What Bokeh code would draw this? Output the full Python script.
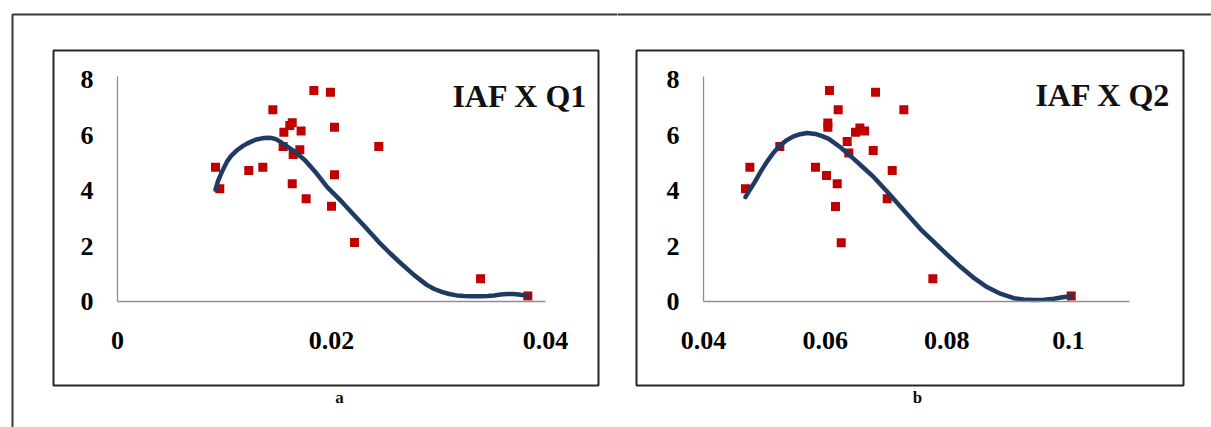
from bokeh.plotting import figure
from bokeh.layouts import row
from bokeh.models import (Range1d, LinearAxis, FixedTicker, BoxAnnotation, Label)
from bokeh.embed import file_html
from bokeh.resources import INLINE

# ---------------- data ----------------
# Panel a: IAF vs Q1
q1_x = [0.00916, 0.00956, 0.01227, 0.01358, 0.01452, 0.01555, 0.01610, 0.01633,
        0.01716, 0.01548, 0.01704, 0.01642, 0.01633, 0.01763, 0.01835, 0.01990,
        0.02028, 0.02028, 0.02000, 0.02215, 0.02442, 0.03393, 0.03835]
q1_y = [4.84, 4.06, 4.72, 4.84, 6.91, 6.10, 6.34, 6.44,
        6.14, 5.59, 5.47, 5.30, 4.24, 3.70, 7.60, 7.54,
        6.28, 4.57, 3.43, 2.13, 5.59, 0.82, 0.20]
fit1_x = [0.00916, 0.0094, 0.0097, 0.0100, 0.01025, 0.0106, 0.0112, 0.0117,
          0.0121, 0.0126, 0.0130, 0.0135, 0.0140, 0.0144, 0.0148, 0.0152,
          0.0156, 0.0165, 0.0175, 0.0186, 0.0196, 0.0210, 0.0221, 0.0233,
          0.0244, 0.0255, 0.0265, 0.0277, 0.0289, 0.0296, 0.0303, 0.0310,
          0.0317, 0.0324, 0.0330, 0.0339, 0.0346, 0.0352, 0.0358, 0.0364,
          0.0370, 0.0375, 0.0380, 0.0384]
fit1_y = [4.03, 4.35, 4.62, 4.86, 5.05, 5.24, 5.46, 5.60,
          5.69, 5.78, 5.84, 5.88, 5.90, 5.89, 5.85, 5.76,
          5.65, 5.42, 5.10, 4.62, 4.12, 3.58, 3.12, 2.62,
          2.15, 1.73, 1.37, 0.96, 0.60, 0.45, 0.35, 0.27,
          0.22, 0.20, 0.19, 0.19, 0.20, 0.22, 0.25, 0.27,
          0.27, 0.25, 0.22, 0.20]

# Panel b: IAF vs Q2
q2_x = [0.04690, 0.04762, 0.05254, 0.05841, 0.06022, 0.06071, 0.06044, 0.06044,
        0.06214, 0.06198, 0.06170, 0.06264, 0.06362, 0.06389, 0.06499, 0.06570,
        0.06647, 0.06828, 0.06790, 0.07102, 0.07020, 0.07293, 0.07770, 0.10045]
q2_y = [4.06, 4.84, 5.59, 4.84, 4.54, 7.60, 6.43, 6.28,
        6.91, 4.24, 3.42, 2.12, 5.77, 5.35, 6.10, 6.25,
        6.14, 7.54, 5.44, 4.72, 3.70, 6.91, 0.82, 0.20]
fit2_x = [0.0469, 0.0476, 0.0483, 0.0494, 0.0505, 0.0515, 0.0525, 0.0536,
          0.0548, 0.0559, 0.0570, 0.0584, 0.0595, 0.0606, 0.0625, 0.0647,
          0.0663, 0.0680, 0.0705, 0.0732, 0.0757, 0.0776, 0.0800, 0.0823,
          0.0845, 0.0866, 0.0888, 0.0910, 0.0926, 0.0943, 0.0960, 0.0976,
          0.0990, 0.1005]
fit2_y = [3.76, 4.02, 4.26, 4.68, 5.06, 5.36, 5.60, 5.80,
          5.95, 6.03, 6.07, 6.04, 5.96, 5.86, 5.56, 5.14,
          4.82, 4.48, 3.88, 3.22, 2.60, 2.20, 1.70, 1.24,
          0.84, 0.52, 0.28, 0.12, 0.07, 0.05, 0.06, 0.10,
          0.15, 0.20]

y_ticks = [0, 2, 4, 6, 8]
y_tick_labels = ["0", "2", "4", "6", "8"]
x_ticks_a = [0, 0.02, 0.04]
x_tick_labels_a = ["0", "0.02", "0.04"]
x_ticks_b = [0.04, 0.06, 0.08, 0.1]
x_tick_labels_b = ["0.04", "0.06", "0.08", "0.1"]
titles = ["IAF X Q1", "IAF X Q2"]
captions = ["a", "b"]

# ---------------- styles / layout ----------------
RED = "#c00000"
NAVY = "#1f3b63"
AXIS_GREY = "#8f8f8f"
SERIF = "Liberation Serif"
PAGE_OFF = 0          # page origin of the canvas
H = 427
Y0_PX = 301           # page y of value 0
Y_PPU = 27.75         # px per unit on y


def make_panel(page_left, width, x_ref_val, x_ref_px, x_ppu, x_bounds, xt, xtl,
               box_px, outer):
    def X(px):
        return x_ref_val + (px - x_ref_px) / x_ppu

    def Y(py):
        return (Y0_PX - py) / Y_PPU

    p = figure(width=width, height=H,
               x_range=Range1d(X(page_left), X(page_left + width)),
               y_range=Range1d(Y(PAGE_OFF + H), Y(PAGE_OFF)),
               x_axis_type=None, y_axis_type=None,
               toolbar_location=None, output_backend="svg",
               min_border=0, outline_line_color=None,
               background_fill_color="white", border_fill_color="white")

    # outer figure frame
    ol, ot = outer
    p.add_layout(BoxAnnotation(left=X(ol[0]), right=X(ol[1]), top=Y(ot[0]), bottom=Y(ot[1]),
                               fill_alpha=0, line_color="#3a3a3a", line_alpha=1.0,
                               line_width=2))
    # panel box
    bl, bt, br, bb = box_px
    p.add_layout(BoxAnnotation(left=X(bl), right=X(br), top=Y(bt), bottom=Y(bb),
                               fill_alpha=0, line_color="#262626", line_alpha=1.0,
                               line_width=2))

    # axes drawn inside the frame at fixed locations
    xaxis = LinearAxis(fixed_location=0, bounds=x_bounds, ticker=FixedTicker(ticks=xt),
                       major_label_overrides={t: l for t, l in zip(xt, xtl)})
    yaxis = LinearAxis(fixed_location=x_bounds[0], bounds=(0, 8.1),
                       ticker=FixedTicker(ticks=y_ticks),
                       major_label_overrides={t: l for t, l in zip(y_ticks, y_tick_labels)})
    for ax in (xaxis, yaxis):
        ax.axis_line_color = AXIS_GREY
        ax.axis_line_width = 1.3
        ax.major_tick_line_color = None
        ax.minor_tick_line_color = None
        ax.major_tick_out = 0
        ax.major_tick_in = 0
        ax.major_label_text_font = SERIF
        ax.major_label_text_font_style = "bold"
        ax.major_label_text_font_size = "26px"
        ax.major_label_text_color = "black"
    xaxis.major_label_standoff = 30
    yaxis.major_label_standoff = 24
    p.add_layout(xaxis, "below")
    p.add_layout(yaxis, "left")
    return p, X, Y


pA, XA, YA = make_panel(PAGE_OFF, 617, 0.0, 117, 428 / 0.04, (0, 0.04),
                        x_ticks_a, x_tick_labels_a, (53, 50, 598, 385),
                        ((12, 2000), (14, 2000)))
pB, XB, YB = make_panel(PAGE_OFF + 617, 594, 0.04, 703, 121.67 / 0.02, (0.04, 0.11),
                        x_ticks_b, x_tick_labels_b, (636, 50, 1183, 385),
                        ((-2000, 2000), (14, 2000)))

for p, X, Y, xs, ys, fx, fy, t, tpx, c, cpx in (
        (pA, XA, YA, q1_x, q1_y, fit1_x, fit1_y, titles[0], (587, 95), captions[0], (339, 397)),
        (pB, XB, YB, q2_x, q2_y, fit2_x, fit2_y, titles[1], (1170, 94), captions[1], (917, 397))):
    p.scatter(xs, ys, marker="square", size=9, fill_color=RED, line_color=None)
    p.line(fx, fy, line_color=NAVY, line_width=4.5, line_join="round", line_cap="round")
    p.add_layout(Label(x=X(tpx[0]), y=Y(tpx[1]), text=t, text_align="right",
                       text_baseline="alphabetic", text_font=SERIF,
                       text_font_style="bold", text_font_size="32px", text_color="#111111"))
    p.add_layout(Label(x=X(cpx[0]), y=Y(cpx[1]), text=c, text_align="center",
                       text_baseline="middle", text_font=SERIF,
                       text_font_style="bold", text_font_size="17px", text_color="#111111"))

layout = row(pA, pB)
open("out.html", "w").write(file_html(layout, INLINE))
